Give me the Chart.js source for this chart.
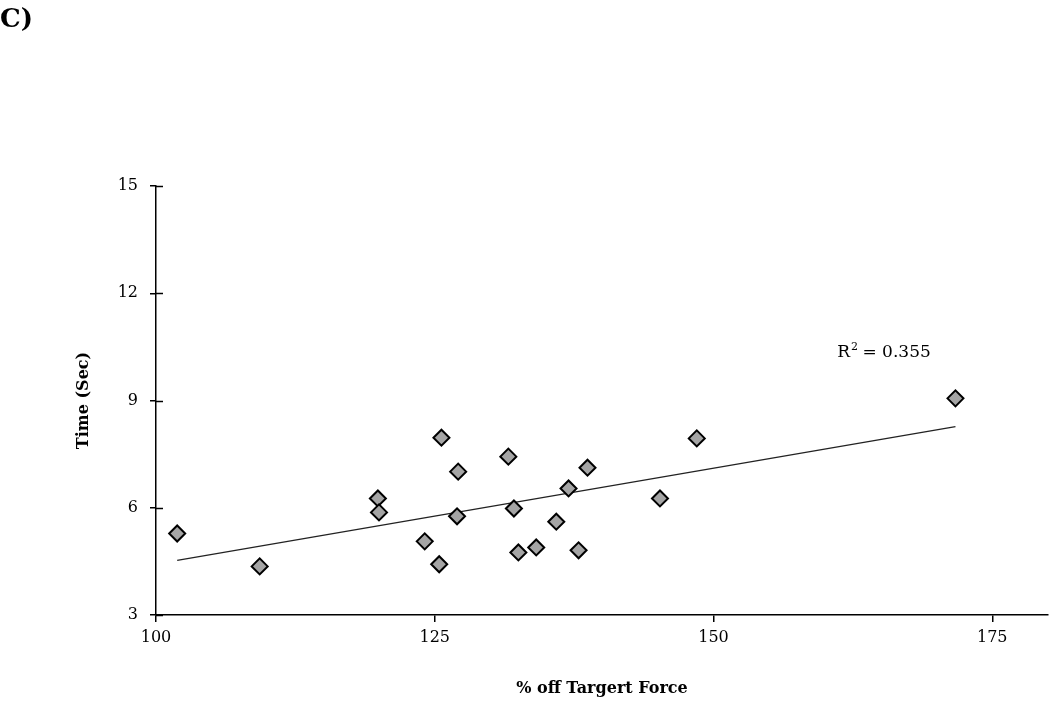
<!DOCTYPE html>
<html>
<head>
<meta charset="utf-8">
<script src="https://cdn.jsdelivr.net/npm/chart.js@4"></script>
<style>
  body { margin: 0; background: #fff; }
  #wrap { position: relative; width: 1050px; height: 702px; }
  #panel { position: absolute; left: 0; top: 3px; font: bold 26px 'DejaVu Serif', serif; color: #000; }
</style>
</head>
<body>
<div id="wrap">
  <canvas id="grafico" width="1050" height="702"></canvas>
  <div id="panel">C)</div>
</div>
<script>
// % off target force vs time
const forcePct = [101.9, 109.3, 119.9, 120.0, 124.1, 125.4, 125.6, 127.1, 127.0, 131.6, 132.1, 132.5, 134.1, 135.9, 137.0, 137.9, 138.7, 145.2, 148.5, 171.7]
const timeSec = [5.28, 4.36, 6.26, 5.87, 5.06, 4.42, 7.96, 7.01, 5.76, 7.43, 5.98, 4.75, 4.89, 5.61, 6.54, 4.81, 7.12, 6.26, 7.94, 9.06]
const trendX = [101.9, 171.7]
const trendY = [4.53, 8.27]
const xTicks = [100, 125, 150, 175]
const yTicks = [3, 6, 9, 12, 15]

const serif = "'DejaVu Serif', 'Liberation Serif', serif"

const ctxGrafico = document.getElementById('grafico')

const dataGrafico = {
  datasets: [{
    type: 'scatter',
    data: forcePct.map((x, i) => ({ x: x, y: timeSec[i] })),
    pointStyle: 'rectRot',
    pointRadius: 8,
    pointBackgroundColor: '#a5a5a5',
    pointBorderColor: '#000',
    pointBorderWidth: 2
  }, {
    type: 'line',
    data: trendX.map((x, i) => ({ x: x, y: trendY[i] })),
    borderColor: '#222',
    borderWidth: 1.2,
    pointRadius: 0,
    fill: false
  }]
}

// inner half of the y ticks + the R² label
const extras = {
  id: 'extras',
  afterDraw(chart) {
    const { ctx, scales: { x, y } } = chart
    ctx.save()
    ctx.strokeStyle = '#000'
    ctx.lineWidth = 1.5
    yTicks.forEach(v => {
      const py = Math.round(y.getPixelForValue(v)) + 0.5
      ctx.beginPath()
      ctx.moveTo(x.left, py)
      ctx.lineTo(x.left + 7, py)
      ctx.stroke()
    })
    const px = x.getPixelForValue(161.1)
    const py = y.getPixelForValue(10.23)
    ctx.fillStyle = '#000'
    ctx.font = '17px ' + serif
    ctx.textBaseline = 'alphabetic'
    ctx.fillText('R', px, py)
    const w = ctx.measureText('R').width
    ctx.font = '11px ' + serif
    ctx.fillText('2', px + w + 1, py - 7)
    ctx.font = '17px ' + serif
    ctx.fillText(' = 0.355', px + w + 7, py)
    ctx.restore()
  }
}

const optionsGrafico = {
  responsive: false,
  animation: false,
  layout: { autoPadding: false, padding: { top: 186, right: 2, left: 0, bottom: 0 } },
  plugins: {
    legend: { display: false },
    tooltip: { enabled: false }
  },
  scales: {
    x: {
      type: 'linear',
      min: 100,
      max: 180,
      afterBuildTicks: s => { s.ticks = xTicks.map(v => ({ value: v })) },
      afterFit: s => { s.height = 87 },
      border: { color: '#000', width: 1.5 },
      grid: { drawOnChartArea: false, color: '#000', lineWidth: 1.5, tickLength: 7 },
      ticks: { color: '#000', padding: 6, font: { family: serif, size: 16 } },
      title: { display: true, text: '% off Targert Force', color: '#000', padding: { top: 20 }, font: { family: serif, size: 16, weight: 'bold' } }
    },
    y: {
      type: 'linear',
      min: 3,
      max: 15,
      afterBuildTicks: s => { s.ticks = yTicks.map(v => ({ value: v })) },
      afterFit: s => { s.width = 156 },
      border: { color: '#000', width: 1.5 },
      grid: { drawOnChartArea: false, color: '#000', lineWidth: 1.5, tickLength: 6 },
      ticks: { color: '#000', padding: 12, font: { family: serif, size: 16 } },
      title: { display: true, text: 'Time (Sec)', color: '#000', padding: { top: 74, bottom: 0 }, font: { family: serif, size: 16, weight: 'bold' } }
    }
  }
}

new Chart(ctxGrafico, {
  data: dataGrafico,
  options: optionsGrafico,
  plugins: [extras]
})
</script>
</body>
</html>
